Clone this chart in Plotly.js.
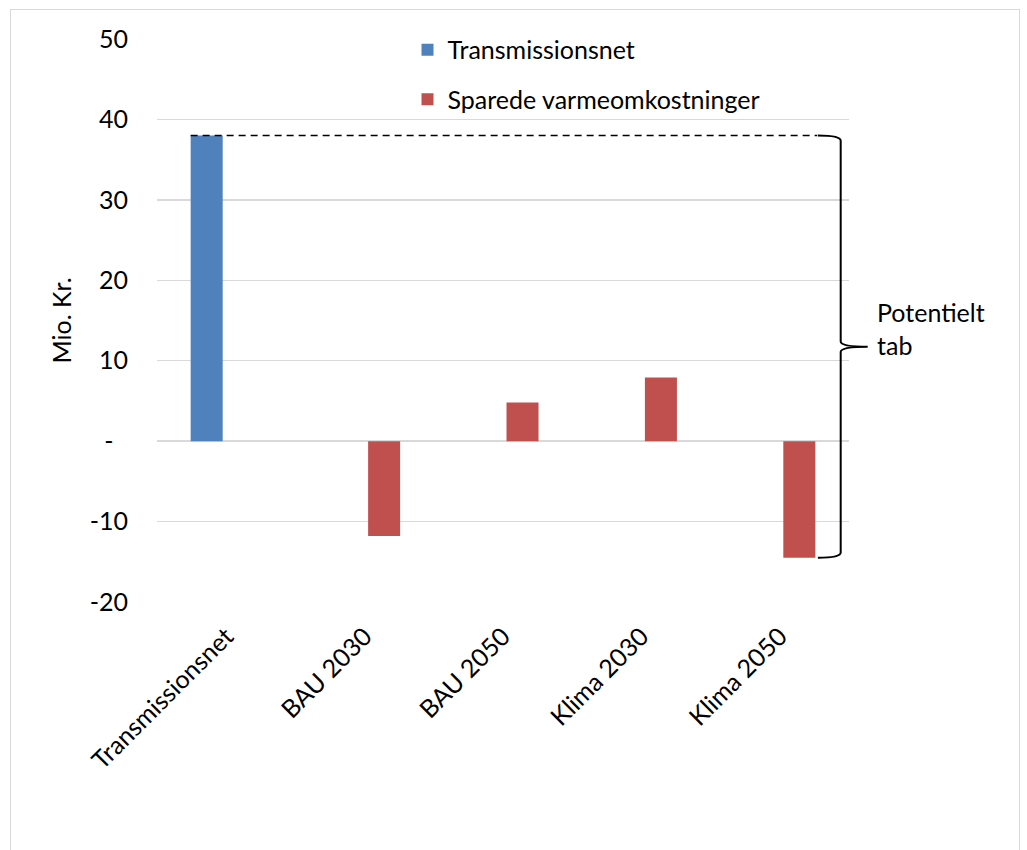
<!DOCTYPE html>
<html>
<head>
<meta charset="utf-8">
<script src="https://cdn.plot.ly/plotly-3.0.1.min.js"></script>
<style>
  html, body { margin: 0; padding: 0; background: #fff; }
  #wrap { position: relative; width: 1027px; height: 850px; overflow: hidden; }
  #frame { position: absolute; left: 10px; top: 9px; width: 1008px; height: 860px; border: 1.5px solid #d9d9d9; pointer-events: none; }
  #chart { position: absolute; left: 0; top: 0; width: 1027px; height: 850px; }
</style>
</head>
<body>
<div id="wrap">
  <div id="chart"></div>
  <div id="frame"></div>
</div>
<script>
// ---- data ----
const categories = ["Transmissionsnet", "BAU 2030", "BAU 2050", "Klima 2030", "Klima 2050"];
const transmissionsnet = [38, null, null, null, null];
const sparedeVarme = [null, -11.8, 4.8, 7.9, -14.5];
const seriesNames = ["Transmissionsnet", "Sparede varmeomkostninger"];
const yTickVals = [-20, -10, 0, 10, 20, 30, 40, 50];
const yTickText = ["-20", "-10", "-\u2007", "10", "20", "30", "40", "50"];
const braceLabel = "Potentielt<br>tab";
const yTitle = "Mio. Kr.";

const FONT = "Lato, 'Noto Sans', sans-serif";
const FS = 25;

const traces = [
  { type: "bar", name: seriesNames[0], x: categories, y: transmissionsnet,
    marker: { color: "#4F81BD" }, legendgroup: "a" },
  { type: "bar", name: seriesNames[1], x: categories, y: sparedeVarme,
    marker: { color: "#C0504D" }, legendgroup: "b" }
];

const yTop = transmissionsnet[0];
const yBottom = Math.min(...sparedeVarme.filter(v => v !== null));
const yMid = (yTop + yBottom) / 2;
const bx = 0.988, bx0 = 0.955, btip = 1.027, c = 0.65;

const layout = {
  width: 1027, height: 850,
  margin: { l: 157, r: 178, t: 38.5, b: 248.3 },
  paper_bgcolor: "rgba(0,0,0,0)",
  plot_bgcolor: "rgba(0,0,0,0)",
  font: { family: FONT, size: FS, color: "#000" },
  barmode: "group",
  bargap: 0.436,
  bargroupgap: 0.18,
  showlegend: true,
  legend: {
    x: 0.362, xanchor: "left", y: 1.0215, yanchor: "top",
    bgcolor: "rgba(0,0,0,0)",
    font: { family: FONT, size: FS, color: "#000" },
    tracegroupgap: 14, traceorder: "grouped"
  },
  xaxis: {
    type: "category",
    tickangle: -45,
    showgrid: false, zeroline: false, showline: false,
    ticks: "", ticklabelstandoff: 14,
    tickfont: { family: FONT, size: FS, color: "#000" }
  },
  yaxis: {
    range: [-20, 50],
    tickvals: yTickVals, ticktext: yTickText,
    showgrid: true, gridcolor: "#d9d9d9", gridwidth: 1.3,
    zeroline: false, showline: false, ticks: "",
    ticklabelstandoff: 28,
    tickfont: { family: FONT, size: FS, color: "#000" },
    title: { text: yTitle, font: { family: FONT, size: FS, color: "#000" }, standoff: 10 }
  },
  shapes: [
    { type: "line", xref: "x", yref: "y", x0: -0.257, x1: 4.27, y0: yTop, y1: yTop,
      line: { color: "#000", width: 1.5, dash: "7px,5px" } },
    { type: "path", xref: "paper", yref: "y",
      path: `M ${bx0},${yTop} Q ${bx},${yTop} ${bx},${yTop - c} L ${bx},${yMid + c} Q ${bx},${yMid} ${btip},${yMid} Q ${bx},${yMid} ${bx},${yMid - c} L ${bx},${yBottom + c} Q ${bx},${yBottom} ${bx0},${yBottom}`,
      line: { color: "#000", width: 2 } }
  ],
  annotations: [
    { xref: "paper", yref: "y", x: 1.037, y: yMid + 2.2, xanchor: "left", yanchor: "middle",
      text: braceLabel, align: "left", showarrow: false,
      font: { family: FONT, size: FS, color: "#000" } }
  ]
};

Plotly.newPlot("chart", traces, layout, { displayModeBar: false, staticPlot: true });
</script>
</body>
</html>
